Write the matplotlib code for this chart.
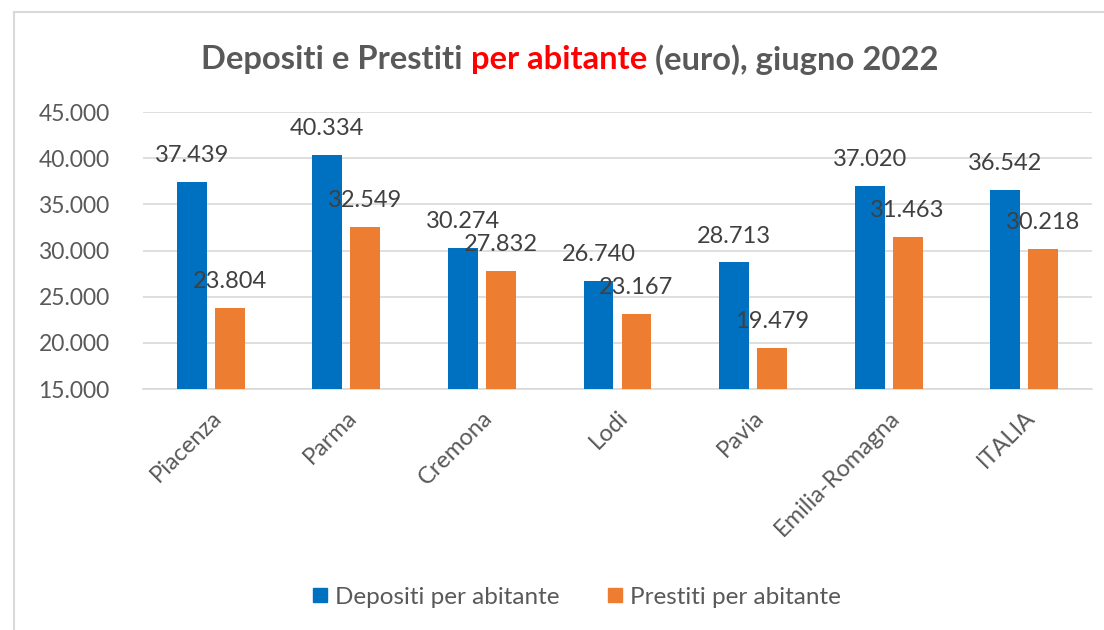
import numpy as np
import matplotlib.pyplot as plt
from matplotlib.ticker import FuncFormatter
from matplotlib.lines import Line2D

categorie = ["Piacenza", "Parma", "Cremona", "Lodi", "Pavia", "Emilia-Romagna", "ITALIA"]
depositi = [37439, 40334, 30274, 26740, 28713, 37020, 36542]
prestiti = [23804, 32549, 27832, 23167, 19479, 31463, 30218]

BLU = "#0070C0"
ARANCIO = "#ED7D31"
GRIGIO = "#595959"
FONT = "Lato"

plt.rcParams["font.family"] = [FONT, "DejaVu Sans"]

fig = plt.figure(figsize=(11.04, 6.3), dpi=100)
ax = fig.add_axes([0.1295, 0.3825, 0.8596, 0.4397])

x = np.arange(len(categorie))
w = 0.22
off = 0.14
b1 = ax.bar(x - off, depositi, w, color=BLU, label="Depositi per abitante", zorder=3)
b2 = ax.bar(x + off, prestiti, w, color=ARANCIO, label="Prestiti per abitante", zorder=3)

def fmt(v, pos=None):
    return f"{v:,.0f}".replace(",", ".")

for bars, vals in ((b1, depositi), (b2, prestiti)):
    for r, v in zip(bars, vals):
        ax.annotate(fmt(v), (r.get_x() + r.get_width() / 2, v),
                    xytext=(0, 19), textcoords="offset points",
                    ha="center", va="center", fontsize=17, color="#404040", zorder=4)

ax.set_xlim(-0.5, len(categorie) - 0.5)
ax.set_ylim(15000, 45000)
ax.set_yticks(np.arange(15000, 45001, 5000))
ax.yaxis.set_major_formatter(FuncFormatter(fmt))
ax.grid(axis="y", color="#D9D9D9", linewidth=1.2, zorder=0)
for s in ("top", "right", "left"):
    ax.spines[s].set_visible(False)
ax.spines["bottom"].set_color("#D9D9D9")
ax.spines["bottom"].set_linewidth(1.2)
ax.tick_params(axis="y", length=0, pad=24, labelsize=16.5, labelcolor=GRIGIO)
ax.tick_params(axis="x", length=0, pad=13, labelsize=17, labelcolor=GRIGIO)
ax.set_xticks(x)
ax.set_xticklabels(categorie, rotation=45, ha="right", rotation_mode="anchor")

# titolo a colori
parti = [("Depositi e Prestiti ", GRIGIO), ("per abitante", "#FF0000"), (" (euro), giugno 2022", GRIGIO)]
testi = []
for s, c in parti:
    t = fig.text(0, 0.905, s, color=c, fontsize=23.6, fontweight="bold", va="center")
    testi.append(t)
fig.canvas.draw()
r = fig.canvas.get_renderer()
tot = sum(tt.get_window_extent(r).width for tt in testi)
x0 = 570 - tot / 2
for tt in testi:
    tt.set_position((x0 / 1104, 0.905))
    x0 += tt.get_window_extent(r).width

handles = [Line2D([], [], marker="s", linestyle="none", markersize=10, color=BLU),
           Line2D([], [], marker="s", linestyle="none", markersize=10, color=ARANCIO)]
fig.legend(handles, ["Depositi per abitante", "Prestiti per abitante"],
           loc="center", bbox_to_anchor=(0.5226, 0.052), ncol=2, frameon=False,
           fontsize=17.5, labelcolor=GRIGIO, handlelength=0.6, handletextpad=0.3,
           columnspacing=2.0)

# cornice
fig.add_artist(Line2D([0.0127, 1.0], [0.981, 0.981], color="#D9D9D9", linewidth=1.5))
fig.add_artist(Line2D([0.0127, 0.0127], [0.0, 0.981], color="#D9D9D9", linewidth=1.5))

fig.savefig("out.png", dpi=100)
plt.close()
